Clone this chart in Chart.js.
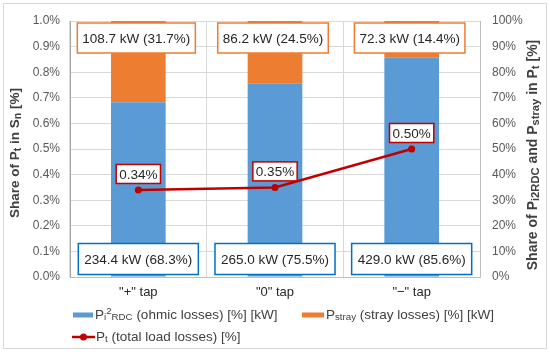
<!DOCTYPE html>
<html>
<head>
<meta charset="utf-8">
<script src="https://cdn.jsdelivr.net/npm/chart.js@4"></script>
<style>
  body { margin: 0; background: #fff; }
  #wrap { width: 550px; height: 354px; position: relative; }
</style>
</head>
<body>
<div id="wrap"><canvas id="grafico"></canvas></div>
<script>
// datos
const categorias = ['"+" tap', '"0" tap', '"\u2212" tap'];
const ohmicoPct = [68.3, 75.5, 85.6];
const dispersoPct = [31.7, 24.5, 14.4];
const ohmicoKW = [234.4, 265.0, 429.0];
const dispersoKW = [108.7, 86.2, 72.3];
const totalPct = [0.34, 0.35, 0.5];

const azul = "#5b9bd5";
const naranjo = "#ed7d31";
const rojo = "#c00000";
const fam = "'Liberation Sans', Arial, sans-serif";

// texto con subindices / superindices
function textoRico(ctx, partes, x, y, size, bold, align, escala) {
  const esc = escala || 0.72;
  const fuente = (k) => (bold ? "bold " : "") + (k ? size * esc : size) + "px " + fam;
  let w = 0;
  partes.forEach(([t, k]) => {
    ctx.font = fuente(k);
    w += ctx.measureText(t).width;
  });
  let cx = align === "center" ? x - w / 2 : x;
  ctx.textBaseline = "middle";
  ctx.textAlign = "left";
  partes.forEach(([t, k]) => {
    ctx.font = fuente(k);
    const dy = k === "sub" ? size * 0.2 : k === "sup" ? -size * 0.3 : 0;
    ctx.fillText(t, cx, y + dy);
    cx += ctx.measureText(t).width;
  });
}

function caja(ctx, texto, cx, cy, borde, size, padX, alto) {
  ctx.font = size + "px " + fam;
  const w = ctx.measureText(texto).width + padX * 2;
  ctx.fillStyle = "#fff";
  ctx.fillRect(cx - w / 2, cy - alto / 2, w, alto);
  ctx.strokeStyle = borde;
  ctx.lineWidth = 1.5;
  ctx.strokeRect(cx - w / 2, cy - alto / 2, w, alto);
  ctx.fillStyle = "#262626";
  ctx.textAlign = "center";
  ctx.textBaseline = "middle";
  ctx.fillText(texto, cx, cy + 1);
}

const extras = {
  id: "extras",
  afterDatasetsDraw(chart) {
    const ctx = chart.ctx;
    const y1 = chart.scales.y1;
    const barras = chart.getDatasetMeta(0).data;
    const puntos = chart.getDatasetMeta(2).data;
    ctx.save();
    barras.forEach((b, i) => {
      caja(ctx, dispersoKW[i].toFixed(1) + " kW (" + dispersoPct[i].toFixed(1) + "%)", b.x - 2, y1.getPixelForValue(100) + 17, naranjo, 13.5, 5, 30);
      caja(ctx, ohmicoKW[i].toFixed(1) + " kW (" + ohmicoPct[i].toFixed(1) + "%)", b.x, y1.getPixelForValue(0) - 18, "#0070c0", 13.5, 6, 31);
    });
    puntos.forEach((p, i) => {
      caja(ctx, totalPct[i].toFixed(2) + "%", p.x, p.y - 16, rojo, 13.5, 3, 19);
    });
    ctx.restore();
  },
  afterDraw(chart) {
    const ctx = chart.ctx;
    const area = chart.chartArea;
    const midY = (area.top + area.bottom) / 2;
    ctx.save();
    // marco exterior
    ctx.strokeStyle = "#d9d9d9";
    ctx.lineWidth = 1;
    ctx.strokeRect(3.5, 3.5, 543, 345);
    // titulos de ejes
    ctx.fillStyle = "#404040";
    ctx.save();
    ctx.translate(15, midY + 4);
    ctx.rotate(-Math.PI / 2);
    textoRico(ctx, [["Share of P", ""], ["t", "sub"], [" in S", ""], ["n", "sub"], [" [%]", ""]], 0, 0, 13.5, true, "center", 0.78);
    ctx.restore();
    ctx.save();
    ctx.translate(533, midY + 6);
    ctx.rotate(-Math.PI / 2);
    textoRico(ctx, [["Share of P", ""], ["i2RDC", "sub"], [" and P", ""], ["stray", "sub"], [" in P", ""], ["t", "sub"], [" [%]", ""]], 0, 0, 14, true, "center", 0.8);
    ctx.restore();
    // leyenda
    const f1 = 315, f2 = 337;
    ctx.fillStyle = azul;
    ctx.fillRect(73, f1 - 2.5, 20, 5);
    ctx.fillStyle = naranjo;
    ctx.fillRect(302, f1 - 2.5, 22, 5);
    ctx.strokeStyle = rojo;
    ctx.lineWidth = 2.5;
    ctx.beginPath();
    ctx.moveTo(72, f2);
    ctx.lineTo(95, f2);
    ctx.stroke();
    ctx.fillStyle = rojo;
    ctx.beginPath();
    ctx.arc(83.5, f2, 3.5, 0, Math.PI * 2);
    ctx.fill();
    ctx.fillStyle = "#404040";
    textoRico(ctx, [["P", ""], ["i", "sub"], ["2", "sup"], ["RDC", "sub"], [" (ohmic losses) [%] [kW]", ""]], 95, f1, 13.5, false, "left");
    textoRico(ctx, [["P", ""], ["stray", "sub"], [" (stray losses) [%] [kW]", ""]], 326, f1, 13.5, false, "left");
    textoRico(ctx, [["P", ""], ["t", "sub"], [" (total load losses) [%]", ""]], 96, f2, 13.5, false, "left");
    ctx.restore();
  },
};

const fuenteTicks = { family: fam, size: 12 };

new Chart(document.getElementById("grafico"), {
  data: {
    labels: categorias,
    datasets: [
      {
        type: "bar",
        label: "ohmic",
        data: ohmicoPct,
        backgroundColor: azul,
        yAxisID: "y1",
        order: 1,
        categoryPercentage: 0.8,
        barPercentage: 0.5,
      },
      {
        type: "bar",
        label: "stray",
        data: dispersoPct,
        backgroundColor: naranjo,
        yAxisID: "y1",
        order: 2,
        categoryPercentage: 0.8,
        barPercentage: 0.5,
      },
      {
        type: "line",
        label: "total",
        data: totalPct,
        borderColor: rojo,
        backgroundColor: rojo,
        borderWidth: 2.5,
        pointRadius: 3.5,
        pointBackgroundColor: rojo,
        pointBorderWidth: 0,
        yAxisID: "y",
        order: 0,
      },
    ],
  },
  options: {
    responsive: true,
    maintainAspectRatio: false,
    animation: false,
    layout: { padding: { top: 21, bottom: 47, left: 0, right: 0 } },
    plugins: {
      legend: { display: false },
      tooltip: { enabled: false },
    },
    scales: {
      x: {
        stacked: true,
        grid: { color: "#d9d9d9", drawTicks: false },
        border: { color: "#bfbfbf" },
        ticks: { padding: 8, color: "#262626", font: { family: fam, size: 13 } },
        afterFit: (s) => { s.height = 30; },
      },
      y: {
        position: "left",
        min: 0,
        max: 1,
        grid: { color: "#d9d9d9", drawTicks: false },
        border: { color: "#a6a6a6" },
        ticks: {
          stepSize: 0.1,
          padding: 10,
          color: "#595959",
          font: fuenteTicks,
          callback: (v) => v.toFixed(1) + "%",
        },
        afterFit: (s) => { s.width = 70; },
      },
      y1: {
        position: "right",
        stacked: true,
        min: 0,
        max: 100,
        grid: { drawOnChartArea: false, drawTicks: false },
        border: { color: "#bfbfbf" },
        ticks: {
          stepSize: 10,
          padding: 12,
          color: "#595959",
          font: fuenteTicks,
          callback: (v) => v + "%",
        },
        afterFit: (s) => { s.width = 70; },
      },
    },
  },
  plugins: [extras],
});
</script>
</body>
</html>
